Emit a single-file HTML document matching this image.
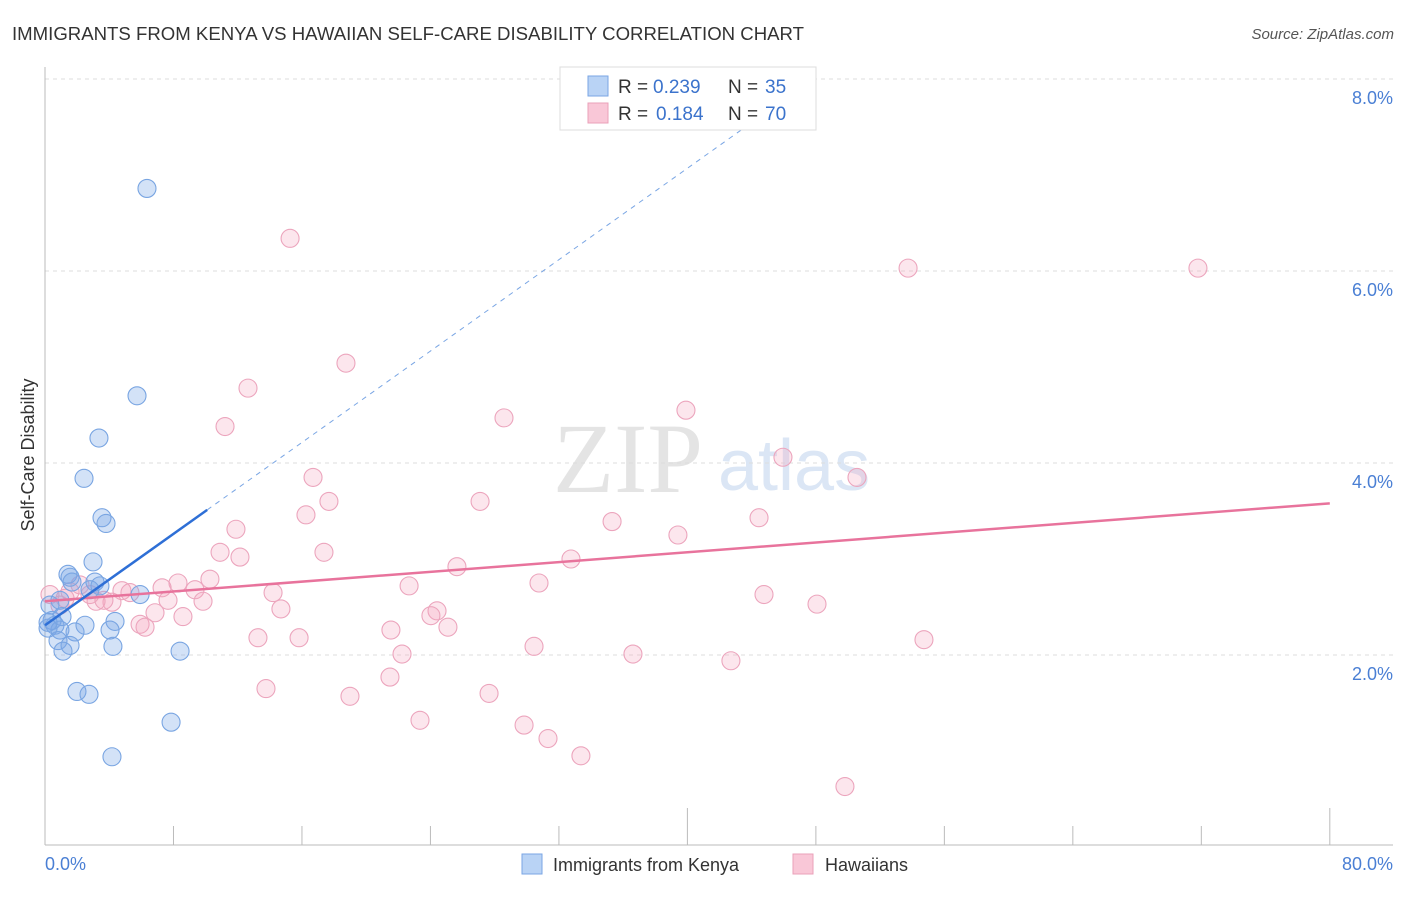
<!DOCTYPE html>
<html><head><meta charset="utf-8"><style>
body{margin:0;background:#fff;font-family:"Liberation Sans",sans-serif}
</style></head><body>
<svg width="1406" height="892" xmlns="http://www.w3.org/2000/svg" font-family="Liberation Sans, sans-serif">
<text x="12" y="40" font-size="18" fill="#333" textLength="792" lengthAdjust="spacingAndGlyphs">IMMIGRANTS FROM KENYA VS HAWAIIAN SELF-CARE DISABILITY CORRELATION CHART</text>
<text x="1394" y="39" font-size="15" fill="#555" font-style="italic" text-anchor="end">Source: ZipAtlas.com</text>
<text x="553" y="492" font-size="100" fill="#e4e4e4" font-family="Liberation Serif, serif">ZIP</text>
<text x="718" y="490" font-size="72" fill="#dbe6f5">atlas</text>
<g id="grid"></g>
<line x1="45" y1="67" x2="45" y2="845" stroke="#bbb"/>
<line x1="45" y1="845" x2="1393" y2="845" stroke="#bbb"/>
<g id="xticks"></g>
<text x="34" y="455" font-size="18" fill="#333" transform="rotate(-90 34 455)" text-anchor="middle">Self-Care Disability</text>
<text x="45" y="870" font-size="18" fill="#4a7fd4">0.0%</text>
<text x="1393" y="870" font-size="18" fill="#4a7fd4" text-anchor="end">80.0%</text>
<g id="marks"></g>
<g>
<rect x="560" y="67" width="256" height="63" fill="#fff" stroke="#ddd"/>
<rect x="588" y="76" width="20" height="20" fill="#b9d3f5" stroke="#7aa6e4"/>
<rect x="588" y="103" width="20" height="20" fill="#f9c7d7" stroke="#eaa0b9"/>
<text x="618" y="93" font-size="19" fill="#333">R =</text>
<text x="653" y="93" font-size="19" fill="#3b73cc">0.239</text>
<text x="728" y="93" font-size="19" fill="#333">N =</text>
<text x="765" y="93" font-size="19" fill="#3b73cc">35</text>
<text x="618" y="120" font-size="19" fill="#333">R =</text>
<text x="656" y="120" font-size="19" fill="#3b73cc">0.184</text>
<text x="728" y="120" font-size="19" fill="#333">N =</text>
<text x="765" y="120" font-size="19" fill="#3b73cc">70</text>
</g>
<g>
<rect x="522" y="854" width="20" height="20" fill="#b9d3f5" stroke="#7aa6e4"/>
<text x="553" y="871" font-size="18" fill="#333">Immigrants from Kenya</text>
<rect x="793" y="854" width="20" height="20" fill="#f9c7d7" stroke="#eaa0b9"/>
<text x="825" y="871" font-size="18" fill="#333">Hawaiians</text>
</g>
</svg>
<script>
const yTicks=[2,4,6,8];
const yTickLabels=["2.0%","4.0%","6.0%","8.0%"];
const xTicks=[0,8,16,24,32,40,48,56,64,72,80];
const kenyaX=[6.35,5.73,3.36,2.43,3.55,3.80,1.43,1.56,2.99,3.11,1.68,2.80,5.92,0.93,0.31,0.44,0.62,0.19,0.93,1.87,2.49,4.36,4.05,0.81,1.56,1.12,4.23,8.41,1.99,2.74,7.85,4.17,0.19,1.06,3.42];
const kenyaY=[6.86,4.70,4.26,3.84,3.43,3.37,2.84,2.81,2.97,2.76,2.76,2.68,2.63,2.57,2.52,2.36,2.31,2.28,2.26,2.24,2.31,2.35,2.26,2.15,2.10,2.04,2.09,2.04,1.62,1.59,1.30,0.94,2.34,2.40,2.72];
const hawX=[15.26,53.74,71.79,18.74,12.64,28.58,39.91,11.21,45.95,50.56,16.69,27.09,17.68,16.25,35.31,44.46,11.89,39.41,10.90,17.37,12.14,32.75,25.65,10.27,30.76,22.67,8.28,7.29,9.34,4.79,5.29,14.20,7.66,9.84,4.17,3.18,1.25,0.31,0.93,44.77,48.07,14.69,6.85,8.59,24.41,24.03,5.92,6.23,25.09,21.54,13.26,15.82,30.45,22.23,36.61,54.73,42.71,13.76,21.48,18.99,27.65,23.35,29.83,31.32,33.37,49.81,3.67,2.18,2.80,1.56];
const hawY=[6.34,6.03,6.03,5.04,4.78,4.47,4.55,4.38,4.06,3.85,3.85,3.60,3.60,3.46,3.39,3.43,3.31,3.25,3.07,3.07,3.02,3.00,2.92,2.79,2.75,2.72,2.75,2.70,2.68,2.67,2.65,2.65,2.57,2.56,2.55,2.56,2.59,2.63,2.52,2.63,2.53,2.48,2.44,2.40,2.46,2.41,2.32,2.29,2.29,2.26,2.18,2.18,2.09,2.01,2.01,2.16,1.94,1.65,1.77,1.57,1.60,1.32,1.27,1.13,0.95,0.63,2.57,2.73,2.63,2.66];
const kenyaTrend=[2.31,0.119];
const hawTrend=[2.56,0.01275];
const NS="http://www.w3.org/2000/svg";
const sx=v=>45+v*16.06, sy=v=>847-v*96;
function mk(t,a,p){const e=document.createElementNS(NS,t);for(const k in a)e.setAttribute(k,a[k]);p.appendChild(e);return e;}
const grid=document.getElementById('grid');
yTicks.forEach((t,i)=>{
 const l=mk('line',{x1:45,x2:1393,y1:sy(t),y2:sy(t),stroke:'#ddd','stroke-dasharray':'4,4'},grid);
 
 
 const tx=mk('text',{x:1393,y:sy(t)+25,'font-size':18,fill:'#4a7fd4','text-anchor':'end'},grid);
 tx.textContent=yTickLabels[i];
 
 
});
const xt=document.getElementById('xticks');
xTicks.forEach((t,i)=>{
 const major=(i===5||i===10);
 const l=mk('line',{x1:sx(t),x2:sx(t),y1:major?808:826,y2:845,stroke:'#bbb'},xt);
 
 
});
const m=document.getElementById('marks');
function pts(X,Y,fill,stroke,name){X.forEach((x,i)=>{
 const c=mk('circle',{cx:sx(x),cy:sy(Y[i]),r:9,fill:fill,stroke:stroke,'stroke-width':1.1},m);
 
 
});}
pts(hawX,hawY,'rgba(244,165,192,0.28)','#eca5bd','hawaiian-point');
pts(kenyaX,kenyaY,'rgba(120,168,232,0.33)','#79a5e2','kenya-point');
let l=mk('line',{x1:sx(0),y1:sy(hawTrend[0]),x2:sx(80),y2:sy(hawTrend[0]+hawTrend[1]*80),stroke:'#e8739c','stroke-width':2.5},m);


l=mk('line',{x1:sx(0),y1:sy(kenyaTrend[0]),x2:sx(10.1),y2:sy(kenyaTrend[0]+kenyaTrend[1]*10.1),stroke:'#2e6fd6','stroke-width':2.5},m);


l=mk('line',{x1:sx(10.1),y1:sy(kenyaTrend[0]+kenyaTrend[1]*10.1),x2:sx(44.5),y2:sy(kenyaTrend[0]+kenyaTrend[1]*44.5),stroke:'#7aa6e4','stroke-width':1,'stroke-dasharray':'5,5'},m);


</script>
</body></html>
